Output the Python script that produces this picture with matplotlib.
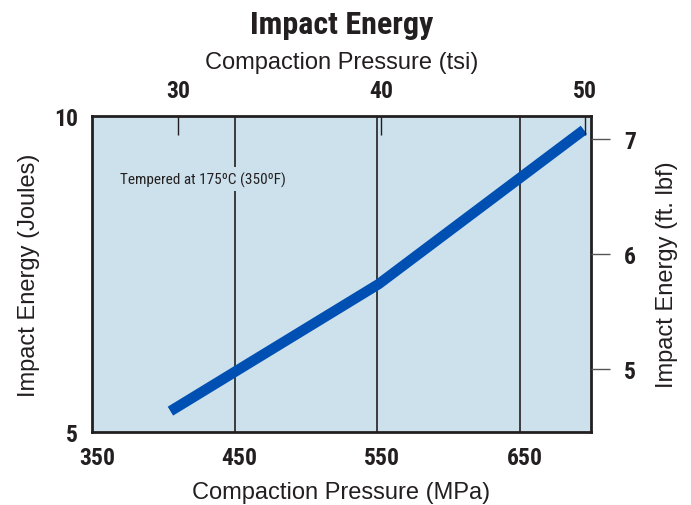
import numpy as np
import matplotlib
matplotlib.use('Agg')
import matplotlib.pyplot as plt
import matplotlib.transforms as mtransforms
from matplotlib import font_manager

# data
mpa = [405, 551, 695]          # compaction pressure (MPa)
joules = [5.33, 7.34, 9.78]    # impact energy (J)
mpa_ticks = [350, 450, 550, 650]
grid_mpa = [450, 550, 650]
tsi_ticks = [30, 40, 50]
j_ticks = [5, 10]
ftlbf_ticks = [5, 6, 7]

names = {f.name for f in font_manager.fontManager.ttflist}
narrow = 'Roboto Condensed' if 'Roboto Condensed' in names else 'Liberation Sans Narrow' if 'Liberation Sans Narrow' in names else 'DejaVu Sans'
plain = 'Liberation Sans'

bg = '#cce1ec'
dark = '#231f20'
blue = '#0050b4'

fig = plt.figure(figsize=(6.91, 5.06), dpi=100)
ax = fig.add_axes([92/691, 1 - 433/506, 499/691, 316/506])
ax.set_facecolor(bg)
ax.set_xlim(350, 700)
ax.set_ylim(5, 10)

for g in grid_mpa:
    ax.axvline(g, color=dark, lw=1.2, zorder=1)

ax.plot(mpa, joules, color=blue, lw=7.5, solid_capstyle='butt', solid_joinstyle='round', zorder=3)

ax.set_xticks(mpa_ticks)
ax.set_xticklabels([str(v) for v in mpa_ticks], fontfamily=narrow, fontweight='bold', fontsize=17, color=dark)
ax.set_yticks(j_ticks)
ax.set_yticklabels([str(v) for v in j_ticks], fontfamily=narrow, fontweight='bold', fontsize=17, color=dark)
ax.tick_params(axis='x', length=0, pad=10)
ax.tick_params(axis='y', length=0, pad=10)
off = mtransforms.ScaledTranslation(5/100, 0, fig.dpi_scale_trans)
for lab in ax.get_xticklabels():
    lab.set_transform(lab.get_transform() + off)

for s in ax.spines.values():
    s.set_linewidth(2)
    s.set_color(dark)
    s.set_zorder(4)

ax.set_xlabel('Compaction Pressure (MPa)', fontfamily=plain, fontsize=17, color=dark, labelpad=9)
ax.set_ylabel('Impact Energy (Joules)', fontfamily=plain, fontsize=17, color=dark, labelpad=10)

# top axis in tsi
top = ax.twiny()
top.set_xlim(25.77, 50.3)
top.set_xticks(tsi_ticks)
top.set_xticklabels([str(v) for v in tsi_ticks], fontfamily=narrow, fontweight='bold', fontsize=17, color=dark)
top.tick_params(axis='x', direction='in', length=14, width=1, color=dark, pad=10)
top.set_xlabel('Compaction Pressure (tsi)', fontfamily=plain, fontsize=17, color=dark, labelpad=8)
for s in top.spines.values():
    s.set_visible(False)

# right axis in ft. lbf
right = ax.twinx()
right.set_ylim(4.45, 7.2)
right.set_yticks(ftlbf_ticks)
right.set_yticklabels([str(v) for v in ftlbf_ticks], fontfamily=narrow, fontweight='bold', fontsize=17, color=dark)
right.tick_params(axis='y', direction='out', length=14, width=1, color='#555555', pad=10)
right.set_ylabel('Impact Energy (ft. lbf)', fontfamily=plain, fontsize=17, color=dark, labelpad=14)
for s in right.spines.values():
    s.set_visible(False)

ax.text(0.056, 0.80, 'Tempered at 175ºC (350ºF)', transform=ax.transAxes, fontfamily=narrow, fontsize=11,
        color=dark, va='center', ha='left', zorder=5,
        bbox=dict(facecolor=bg, edgecolor='none', pad=3))

fig.text(0.5 * (92 + 591) / 691, 1 - 25/506, 'Impact Energy', ha='center', va='center',
         fontfamily=narrow, fontweight='heavy', fontsize=23, color=dark)

fig.savefig('out.png', dpi=100)
